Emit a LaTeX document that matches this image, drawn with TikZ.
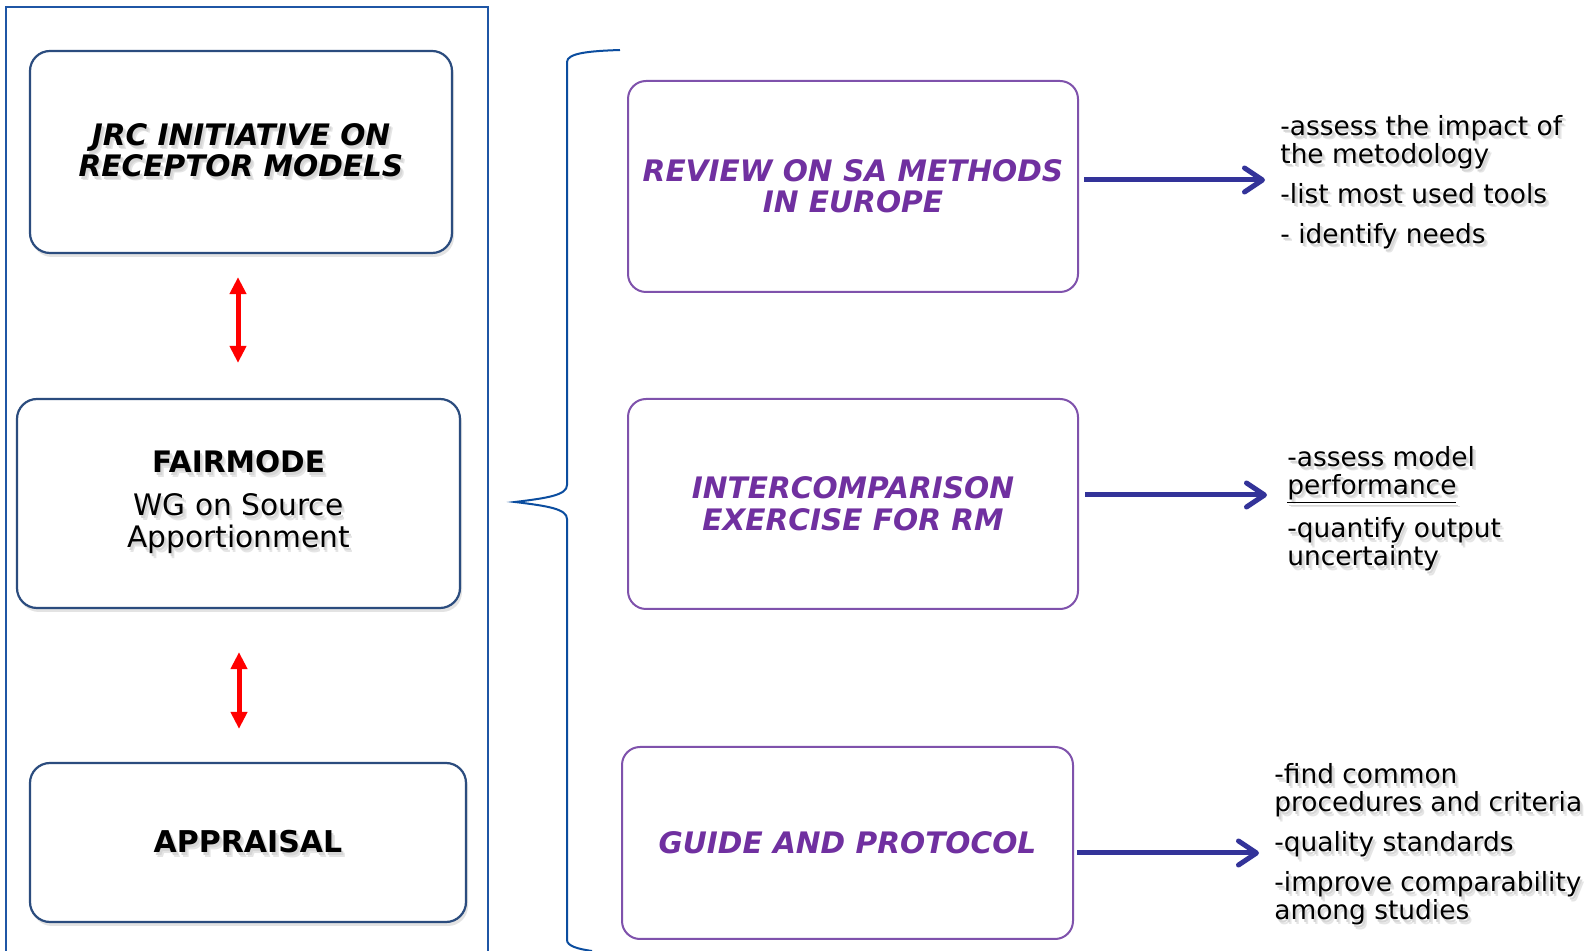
\documentclass[tikz,border=0pt]{standalone}
\usepackage{fontspec}
\setmainfont{DejaVu Sans}
\usetikzlibrary{arrows.meta,shadows,calc}
\definecolor{framec}{HTML}{1F56A5}
\definecolor{bracec}{HTML}{0B4D9F}
\definecolor{leftc}{HTML}{2B4C7E}
\definecolor{purpc}{HTML}{7F52AC}
\definecolor{ptext}{HTML}{7030A0}
\definecolor{arrc}{HTML}{333399}
\newcommand\shadowtext[4]{%
  \node[#3, text=black!10] (#1-sa) at ($(#2)+(3.5,4.5)$) {#4};
  \node[#3, text=black!16] (#1-sh) at ($(#2)+(2,3)$) {#4};
  \node[#3] (#1) at (#2) {#4};}
\begin{document}
\begin{tikzpicture}[x=0.5pt,y=-0.5pt,
  lbox/.style={draw=leftc, line width=1.1pt, rounded corners=10pt, fill=white,
    drop shadow={opacity=0.22, shadow xshift=1pt, shadow yshift=-2pt}},
  rbox/.style={draw=purpc, line width=1pt, rounded corners=9pt, fill=white},
  ltitle/.style={align=center, inner sep=0pt, text=black},
  ptitle/.style={align=center, inner sep=0pt, text=ptext,
    font=\bfseries\itshape\fontsize{14.8}{15.5}\selectfont},
  rtext/.style={align=left, anchor=west, inner sep=0pt, text=black,
    font=\fontsize{13.2}{14}\selectfont},
  redarr/.style={draw=red, line width=2.5pt,
    {Triangle[length=8.5pt,width=8pt]}-{Triangle[length=8.5pt,width=8pt]}},
  bluearr/.style={draw=arrc, line width=2.5pt,
    -{Straight Barb[length=9pt,width=12pt,round]}}]
\useasboundingbox (0,0) rectangle (1592,951);
\fill[white] (0,0) rectangle (1592,951);

% outer frame
\draw[framec, line width=1pt] (6,965) -- (6,7) -- (488,7) -- (488,965);

% left boxes
\node[lbox, minimum width=211pt, minimum height=101pt] (jrcbox) at (241,152) {};
\shadowtext{jrc}{241,150}{ltitle, font=\bfseries\itshape\fontsize{14.8}{15.5}\selectfont}{JRC INITIATIVE ON\\RECEPTOR MODELS}

\node[lbox, minimum width=221.5pt, minimum height=104.5pt] (fmbox) at (238.5,503.5) {};
\shadowtext{fm}{238.5,502.5}{ltitle, font=\fontsize{14.8}{16}\selectfont}{{\bfseries FAIRMODE}\\[5.5pt]WG on Source\\Apportionment}

\node[lbox, minimum width=218pt, minimum height=79.5pt] (apbox) at (248,842.5) {};
\shadowtext{ap}{248,842}{ltitle, font=\bfseries\fontsize{15}{16}\selectfont}{APPRAISAL}

% red double arrows
\draw[redarr] ($(jrcbox.south)+(-3,23)$) -- ($(fmbox.north)+(-0.5,-35)$);
\draw[redarr] ($(fmbox.south)+(0.5,43)$) -- ($(apbox.north)+(-9,-33)$);

% brace
\draw[bracec, line width=1pt] (620,50) .. controls (590,51) and (567,53) .. (567,62)
  -- (567,485) .. controls (567,495) and (548,498) .. (515,502)
  .. controls (548,506) and (567,509) .. (567,519)
  -- (567,940) .. controls (567,946) and (578,949) .. (592,951);

% right boxes
\node[rbox, ptitle, minimum width=225pt, minimum height=105.5pt] (rev) at (853,186.5) {REVIEW ON SA METHODS\\IN EUROPE};
\node[rbox, ptitle, font=\bfseries\itshape\fontsize{14.8}{16}\selectfont, minimum width=225pt, minimum height=105pt] (inter) at (853,504) {INTERCOMPARISON\\EXERCISE FOR RM};
\node[rbox, ptitle, minimum width=225.5pt, minimum height=96pt] (guide) at (847.5,843) {GUIDE AND PROTOCOL};

% right texts
\shadowtext{t1}{1280,182}{rtext}{-assess the impact of\\the metodology\\[6pt]-list most used tools\\[6pt]- identify needs}
\shadowtext{t2}{1287,508.5}{rtext}{-assess model\\\underline{performance}\\[6pt]-quantify output\\uncertainty}
\shadowtext{t3}{1274,844.5}{rtext}{-find common\\procedures and criteria\\[6pt]-quality standards\\[6pt]-improve comparability\\among studies}

% blue arrows
\draw[bluearr] ($(rev.east)+(5,-6.5)$) -- ($(t1.west)+(-15,-2)$);
\draw[bluearr] ($(inter.east)+(6,-9)$) -- ($(t2.west)+(-20,-13.5)$);
\draw[bluearr] ($(guide.east)+(3,10)$) -- ($(t3.west)+(-15,8.5)$);
\end{tikzpicture}
\end{document}
